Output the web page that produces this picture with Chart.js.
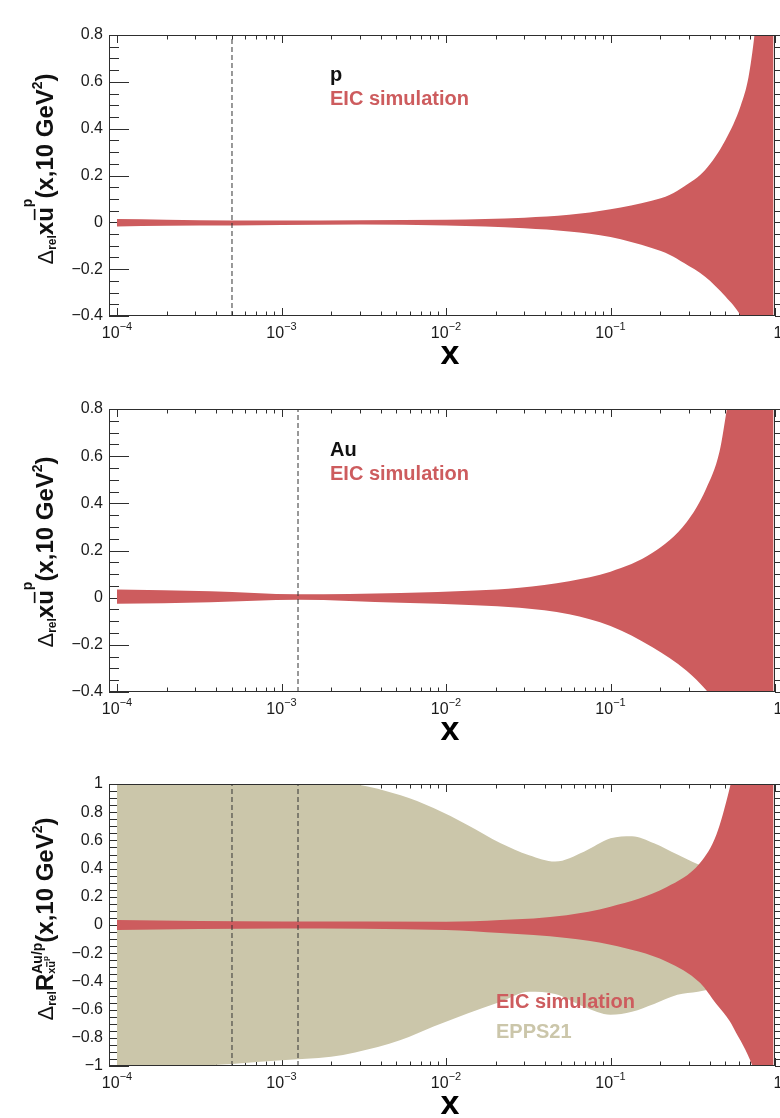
<!DOCTYPE html>
<html>
<head>
<meta charset="utf-8">
<script src="https://cdn.jsdelivr.net/npm/chart.js@4.4.1/dist/chart.umd.min.js"></script>
<style>
  body { margin: 0; background: #fff; }
  #wrap { position: relative; width: 780px; height: 1118px; overflow: hidden; background: #fff; }
  .panel { position: absolute; left: 0; width: 780px; }
</style>
</head>
<body>
<div id="wrap">
  <div class="panel" style="top:0;height:372px"><canvas id="cProton"></canvas></div>
  <div class="panel" style="top:372px;height:372px"><canvas id="cGold"></canvas></div>
  <div class="panel" style="top:744px;height:374px"><canvas id="cRatio"></canvas></div>
</div>
<script>
const FAM = '"Liberation Sans", Arial, Helvetica, sans-serif';
const RED = '#cd5c5e';
const TAN = '#cbc6aa';
const INK = '#2e2e2e';

// x axis
const X_MIN = 8.94e-5;
const xTickValues = [1e-4, 1e-3, 1e-2, 1e-1, 1];

// proton: relative uncertainty band of x*ubar
const xProton = [1e-4, 2e-4, 5e-4, 1e-3, 3e-3, 1e-2, 3e-2, 5.6e-2, 0.1, 0.178, 0.23, 0.28, 0.376, 0.5, 0.62, 0.69, 0.75, 0.85, 0.98];
const protonUp = [0.014, 0.011, 0.008, 0.008, 0.009, 0.011, 0.02, 0.032, 0.056, 0.092, 0.118, 0.153, 0.224, 0.352, 0.5, 0.62, 0.8, 1.2, 2.0];
const protonLo = [-0.018, -0.015, -0.014, -0.011, -0.009, -0.013, -0.025, -0.039, -0.063, -0.11, -0.139, -0.174, -0.232, -0.317, -0.4, -0.47, -0.55, -0.75, -1.1];

// gold
const xGold = [1e-4, 3.7e-4, 1.26e-3, 5.3e-3, 1.5e-2, 2.8e-2, 5.6e-2, 0.1, 0.18, 0.29, 0.38, 0.46, 0.51, 0.6, 0.75, 0.98];
const goldUp = [0.035, 0.027, 0.014, 0.02, 0.03, 0.042, 0.07, 0.11, 0.19, 0.32, 0.46, 0.62, 0.8, 1.1, 1.6, 2.5];
const goldLo = [-0.026, -0.019, -0.009, -0.022, -0.032, -0.043, -0.07, -0.12, -0.21, -0.31, -0.39, -0.46, -0.5, -0.6, -0.8, -1.2];

// nuclear modification ratio Au/p
const xRatio = [1e-4, 1e-3, 1e-2, 2.15e-2, 5.4e-2, 0.1, 0.22, 0.35, 0.44, 0.53, 0.56, 0.73, 0.98];
const ratioUp = [0.035, 0.024, 0.023, 0.035, 0.07, 0.13, 0.27, 0.44, 0.64, 0.97, 1.1, 1.9, 3.0];
const ratioLo = [-0.035, -0.024, -0.035, -0.057, -0.092, -0.14, -0.26, -0.41, -0.56, -0.68, -0.73, -1.0, -1.5];

// EPPS21 band
const xEpps = [1e-4, 3e-4, 5e-4, 1e-3, 2e-3, 2.8e-3, 5.3e-3, 8.4e-3, 1.35e-2, 2.15e-2, 3.2e-2, 4.6e-2, 6.9e-2, 0.1, 0.135, 0.184, 0.255, 0.34, 0.42, 0.6, 0.98];
const eppsUp = [1.1, 1.09, 1.08, 1.06, 1.02, 1.0, 0.92, 0.83, 0.71, 0.58, 0.495, 0.45, 0.52, 0.615, 0.63, 0.58, 0.5, 0.43, 0.39, 0.33, 0.3];
const eppsLo = [-1.03, -1.0, -0.985, -0.96, -0.935, -0.905, -0.816, -0.72, -0.627, -0.544, -0.474, -0.49, -0.58, -0.637, -0.615, -0.56, -0.495, -0.473, -0.45, -0.4, -0.35];

// vertical cut lines
const cutProton = 5e-4;
const cutGold = 1.26e-3;

function bandSets(xs, up, lo, color) {
  const pts = ys => xs.map((x, i) => ({ x, y: ys[i] }));
  const common = { borderColor: 'rgba(0,0,0,0)', borderWidth: 0, pointRadius: 0, cubicInterpolationMode: 'monotone' };
  return [
    { ...common, data: pts(up), fill: '+1', backgroundColor: color },
    { ...common, data: pts(lo), fill: false }
  ];
}

function cutLine(x, yMin, yMax) {
  return {
    data: [{ x, y: yMin }, { x, y: yMax }],
    borderColor: '#333', borderWidth: 1, borderDash: [5, 3],
    pointRadius: 0, fill: false, tension: 0
  };
}

const fmt = v => {
  const r = Math.round(v * 10) / 10;
  return r === 0 ? '0' : String(r).replace('-', '\u2212');
};

function fontOf(pc) {
  return (pc.bold === false ? '' : 'bold ') + pc.size + 'px ' + FAM;
}

// text with sub/superscripts, optionally stacked groups and bars
function richWidth(ctx, parts) {
  let w = 0;
  parts.forEach(pc => {
    if (pc.group) {
      w += Math.max(...pc.group.map(line => richWidth(ctx, line)));
    } else {
      ctx.font = fontOf(pc);
      w += ctx.measureText(pc.t).width;
    }
  });
  return w;
}

function richDraw(ctx, parts, x0) {
  let x = x0;
  parts.forEach(pc => {
    if (pc.group) {
      let adv = 0;
      pc.group.forEach(line => { adv = Math.max(adv, richDraw(ctx, line, x) - x); });
      x += adv;
      return;
    }
    ctx.font = fontOf(pc);
    const w = ctx.measureText(pc.t).width;
    const dy = pc.dy || 0;
    ctx.fillText(pc.t, x, dy);
    if (pc.bar) {
      ctx.fillRect(x + w * 0.12, dy - pc.size * 0.8, w * 0.76, Math.max(1.2, pc.size * 0.07));
    }
    x += w;
  });
  return x;
}

function drawVerticalTitle(ctx, parts, cx, cy) {
  ctx.save();
  ctx.translate(cx, cy);
  ctx.rotate(-Math.PI / 2);
  ctx.fillStyle = '#111';
  ctx.textAlign = 'left';
  ctx.textBaseline = 'alphabetic';
  const w = richWidth(ctx, parts);
  richDraw(ctx, parts, -w / 2);
  ctx.restore();
}

const titleXubar = [
  { t: '\u0394', size: 22, bold: false },
  { t: 'rel', size: 12, dy: 3 },
  { t: 'x', size: 24 },
  { t: 'u', size: 24, bar: true },
  { t: 'p', size: 14, dy: -21 },
  { t: '(x,10 GeV', size: 24 },
  { t: '2', size: 14, dy: -11 },
  { t: ')', size: 24 }
];

const titleRatio = [
  { t: '\u0394', size: 22, bold: false },
  { t: 'rel', size: 12, dy: 3 },
  { t: 'R', size: 24 },
  { group: [
    [{ t: 'Au/p', size: 14, dy: -11 }],
    [{ t: 'x', size: 11, dy: 2 }, { t: 'u', size: 11, dy: 2, bar: true }, { t: 'p', size: 8, dy: -5 }]
  ] },
  { t: '(x,10 GeV', size: 24 },
  { t: '2', size: 14, dy: -11 },
  { t: ')', size: 24 }
];

function axesPlugin(p) {
  return {
    id: 'rootAxes',
    beforeDatasetsDraw(chart) {
      const { ctx, chartArea: a, scales: { x, y } } = chart;
      ctx.save();
      ctx.strokeStyle = INK;
      ctx.lineWidth = 1;
      ctx.beginPath();
      for (let d = -4; d <= 0; d++) {
        for (let m = 1; m <= 9; m++) {
          const v = m * Math.pow(10, d);
          if (v > 1.0001 || v < X_MIN) continue;
          const px = Math.round(x.getPixelForValue(v)) + 0.5;
          const len = m === 1 ? 8 : 4.5;
          ctx.moveTo(px, a.bottom); ctx.lineTo(px, a.bottom - len);
          ctx.moveTo(px, a.top); ctx.lineTo(px, a.top + len);
        }
      }
      const n = Math.round((p.yMax - p.yMin) / 0.05);
      for (let k = 0; k <= n; k++) {
        const v = p.yMin + k * 0.05;
        const py = Math.round(y.getPixelForValue(v)) + 0.5;
        const major = k % 4 === 0;
        ctx.moveTo(a.left, py); ctx.lineTo(a.left + (major ? 20 : 10), py);
        ctx.moveTo(a.right, py); ctx.lineTo(a.right + 6, py);
      }
      ctx.stroke();
      ctx.restore();
    },
    afterDatasetsDraw(chart) {
      const { ctx, chartArea: a } = chart;
      ctx.save();
      ctx.strokeStyle = INK;
      ctx.lineWidth = 1;
      ctx.strokeRect(a.left + 0.5, a.top + 0.5, a.right - a.left - 1, a.bottom - a.top - 1);
      ctx.restore();
    },
    afterDraw(chart) {
      const { ctx, chartArea: a, scales: { x } } = chart;
      ctx.save();
      ctx.fillStyle = '#1a1a1a';
      ctx.textBaseline = 'alphabetic';
      const base = a.bottom + 22;
      xTickValues.forEach(v => {
        const px = x.getPixelForValue(v);
        if (v === 1) {
          ctx.font = '16px ' + FAM;
          ctx.textAlign = 'center';
          ctx.fillText('1', px + 3, base);
          return;
        }
        const exp = '\u2212' + Math.round(-Math.log10(v));
        ctx.font = '16px ' + FAM;
        const w1 = ctx.measureText('10').width;
        ctx.font = '11px ' + FAM;
        const w2 = ctx.measureText(exp).width;
        const x0 = px - (w1 + w2) / 2;
        ctx.textAlign = 'left';
        ctx.font = '16px ' + FAM;
        ctx.fillText('10', x0, base);
        ctx.font = '11px ' + FAM;
        ctx.fillText(exp, x0 + w1, base - 8);
      });

      // axis title x
      ctx.fillStyle = '#000';
      ctx.font = 'bold 34px ' + FAM;
      ctx.textAlign = 'center';
      ctx.fillText('x', a.left + 0.512 * (a.right - a.left), a.bottom + 48);

      // labels inside the frame
      ctx.textAlign = 'left';
      ctx.font = 'bold 20px ' + FAM;
      p.notes.forEach(nt => {
        ctx.fillStyle = nt.color;
        ctx.fillText(nt.t, a.left + nt.dx, a.top + nt.dy);
      });
      ctx.restore();

      drawVerticalTitle(ctx, p.title, 53, a.top + p.titleDy);
    }
  };
}

function makePanel(id, p) {
  return new Chart(document.getElementById(id), {
    type: 'line',
    data: { datasets: p.datasets },
    options: {
      responsive: true,
      maintainAspectRatio: false,
      animation: false,
      events: [],
      layout: { padding: { top: p.padTop, right: 5, left: 0, bottom: 0 } },
      plugins: { legend: { display: false }, tooltip: { enabled: false } },
      scales: {
        x: {
          type: 'logarithmic', min: X_MIN, max: 1,
          grid: { display: false, drawTicks: false },
          border: { display: false },
          ticks: { display: false },
          afterFit: s => { s.height = p.xAxisH; }
        },
        y: {
          type: 'linear', min: p.yMin, max: p.yMax,
          grid: { display: false, drawTicks: false },
          border: { display: false },
          ticks: {
            stepSize: 0.2, padding: 6, color: '#1a1a1a',
            font: { family: FAM, size: 16 },
            callback: v => fmt(v)
          },
          afterFit: s => { s.width = 109; }
        }
      }
    },
    plugins: [axesPlugin(p)]
  });
}

makePanel('cProton', {
  yMin: -0.4, yMax: 0.8, padTop: 35, xAxisH: 56, titleDy: 134,
  title: titleXubar,
  notes: [
    { t: 'p', color: '#111', dx: 221, dy: 46 },
    { t: 'EIC simulation', color: RED, dx: 221, dy: 70 }
  ],
  datasets: [cutLine(cutProton, -0.4, 0.8), ...bandSets(xProton, protonUp, protonLo, RED)]
});

makePanel('cGold', {
  yMin: -0.4, yMax: 0.8, padTop: 37, xAxisH: 52, titleDy: 143,
  title: titleXubar,
  notes: [
    { t: 'Au', color: '#111', dx: 221, dy: 46.5 },
    { t: 'EIC simulation', color: RED, dx: 221, dy: 70.5 }
  ],
  datasets: [cutLine(cutGold, -0.4, 0.8), ...bandSets(xGold, goldUp, goldLo, RED)]
});

makePanel('cRatio', {
  yMin: -1, yMax: 1, padTop: 40, xAxisH: 52, titleDy: 135,
  title: titleRatio,
  notes: [
    { t: 'EIC simulation', color: RED, dx: 387, dy: 224 },
    { t: 'EPPS21', color: TAN, dx: 387, dy: 254 }
  ],
  datasets: [
    cutLine(cutProton, -1, 1),
    cutLine(cutGold, -1, 1),
    ...bandSets(xRatio, ratioUp, ratioLo, RED),
    ...bandSets(xEpps, eppsUp, eppsLo, TAN)
  ]
});
</script>
</body>
</html>
